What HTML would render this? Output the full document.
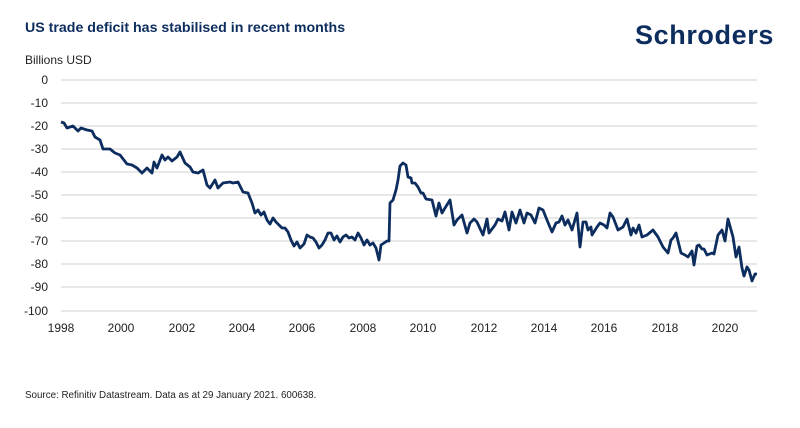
<!DOCTYPE html>
<html><head><meta charset="utf-8"><style>
body{margin:0;background:#fff;width:800px;height:423px;overflow:hidden;font-family:"Liberation Sans",sans-serif}
</style></head><body>
<svg width="800" height="423" xmlns="http://www.w3.org/2000/svg" font-family="Liberation Sans, sans-serif">
<text x="25" y="32" font-size="14.2" font-weight="bold" fill="#0c2d5e">US trade deficit has stabilised in recent months</text>
<text x="635" y="44" font-size="27" font-weight="bold" fill="#0c2d5e" letter-spacing="0.6">Schroders</text>
<text x="25" y="64" font-size="12" fill="#222">Billions USD</text>
<g stroke="#d9d9d9" stroke-width="1.2">
<line x1="61" x2="757" y1="80" y2="80"/><line x1="61" x2="757" y1="103" y2="103"/><line x1="61" x2="757" y1="126" y2="126"/><line x1="61" x2="757" y1="149" y2="149"/><line x1="61" x2="757" y1="172" y2="172"/><line x1="61" x2="757" y1="195" y2="195"/><line x1="61" x2="757" y1="218" y2="218"/><line x1="61" x2="757" y1="241" y2="241"/><line x1="61" x2="757" y1="264" y2="264"/><line x1="61" x2="757" y1="287" y2="287"/><line x1="61" x2="757" y1="311" y2="311"/>
</g>
<g font-size="12" fill="#222" text-anchor="end">
<text x="48" y="84">0</text><text x="48" y="107">-10</text><text x="48" y="130">-20</text><text x="48" y="153">-30</text><text x="48" y="176">-40</text><text x="48" y="199">-50</text><text x="48" y="222">-60</text><text x="48" y="245">-70</text><text x="48" y="268">-80</text><text x="48" y="291">-90</text><text x="48" y="315">-100</text>
</g>
<g font-size="12" fill="#222" text-anchor="middle">
<text x="61" y="332">1998</text><text x="121" y="332">2000</text><text x="182" y="332">2002</text><text x="242" y="332">2004</text><text x="302" y="332">2006</text><text x="363" y="332">2008</text><text x="423" y="332">2010</text><text x="484" y="332">2012</text><text x="544" y="332">2014</text><text x="604" y="332">2016</text><text x="665" y="332">2018</text><text x="725" y="332">2020</text>
</g>
<polyline fill="none" stroke="#0c2d5e" stroke-width="2.8" stroke-linejoin="round" points="61,122 64,123 67,128 73,126 78,131 81,128 87,130 92,131 95,137 100,140 103,149 110,149 115,153 120,155 127,164 132,165 137,168 142,173 147,168 152,173 154,162 157,168 162,155 165,160 168,157 172,161 177,157 180,152 185,163 190,167 193,172 198,173 203,170 207,185 210,188 215,180 218,188 223,183 230,182 233,183 238,182 243,192 248,193 252,203 255,213 258,210 261,215 264,212 267,220 270,224 273,218 276,222 279,225 282,228 285,228 288,232 291,240 294,246 297,242 300,248 304,244 307,235 310,237 313,238 316,242 319,248 322,245 325,240 328,233 331,233 334,240 337,236 340,242 343,237 346,235 349,238 352,237 355,240 358,233 361,238 364,245 367,240 370,245 373,243 376,248 379,260 381,245 384,243 387,241 389,241 390,203 393,200 396,190 398,180 400,166 403,163 406,165 408,177 411,178 412,183 415,183 418,187 421,193 423,193 426,199 432,200 436,216 439,203 442,213 445,208 450,200 454,225 457,220 462,215 467,233 470,223 474,219 477,222 483,235 487,219 489,233 495,225 498,219 502,221 505,212 509,230 512,212 516,223 520,210 524,223 527,213 531,215 535,223 539,208 543,210 547,220 552,232 556,223 559,222 562,216 565,225 568,220 572,230 577,213 580,247 583,222 586,222 588,230 591,227 592,235 597,227 600,223 604,225 607,228 610,213 613,217 618,230 623,227 627,219 631,235 633,228 636,233 639,225 642,237 647,235 653,230 658,237 663,247 668,253 671,240 673,238 676,233 681,253 685,255 688,257 692,251 694,265 697,246 699,245 702,249 704,249 707,255 712,253 714,254 718,235 722,230 725,241 728,219 733,237 736,257 739,247 742,268 744,276 747,267 749,270 752,281 755,274 757,274"/>
<text x="25" y="398" font-size="9.8" fill="#222">Source: Refinitiv Datastream. Data as at 29 January 2021. 600638.</text>
</svg>
</body></html>
